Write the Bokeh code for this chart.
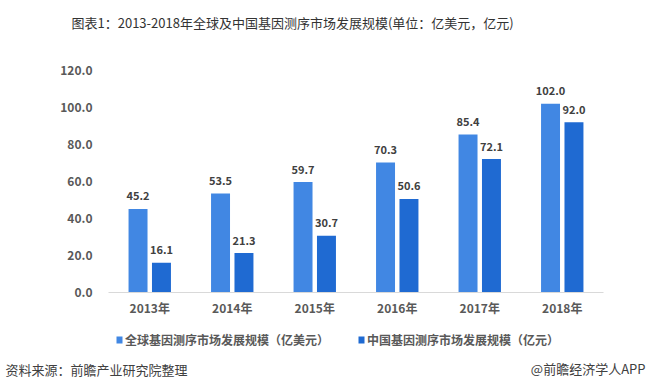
from bokeh.plotting import figure
from bokeh.layouts import column
from bokeh.models import (ColumnDataSource, FactorRange, Label, LabelSet, NumeralTickFormatter,
                          Legend, LegendItem, Range1d, BoxAnnotation)
from bokeh.transform import dodge
from bokeh.core.properties import value
from bokeh.embed import file_html
from bokeh.resources import INLINE

years = ["2013年", "2014年", "2015年", "2016年", "2017年", "2018年"]
global_vals = [45.2, 53.5, 59.7, 70.3, 85.4, 102.0]
china_vals = [16.1, 21.3, 30.7, 50.6, 72.1, 92.0]
y_ticks = [0, 20, 40, 60, 80, 100, 120]
series_names = ["全球基因测序市场发展规模（亿美元）", "中国基因测序市场发展规模（亿元）"]
title_text = "图表1：2013-2018年全球及中国基因测序市场发展规模(单位：亿美元，亿元)"
source_text = "资料来源：前瞻产业研究院整理"
brand_text = "@前瞻经济学人APP"

FONT = "Noto Sans CJK SC"
C1 = "#4187E3"
C2 = "#1F6AD2"
W = 647
H_TOP, H_MAIN, H_BOT = 50, 270, 69


def no_align(f):
    try:
        f.frame_align = False
    except Exception:
        pass


def blank_fig(h):
    f = figure(frame_width=W, frame_height=h, x_range=Range1d(0, W), y_range=Range1d(0, h),
               x_axis_type=None, y_axis_type=None, output_backend="svg",
               toolbar_location=None, min_border=0, title=None)
    f.outline_line_color = None
    f.grid.visible = False
    no_align(f)
    return f


# ---- title strip ----
top = blank_fig(H_TOP)
top.add_layout(Label(x=71, y=H_TOP - 22, text=title_text, text_font=FONT, text_font_size="13px",
                     text_color="#333333", text_baseline="middle", text_align="left"))

# ---- main chart ----
src = ColumnDataSource(dict(
    year=years, g=global_vals, c=china_vals,
    gl=[f"{v:.1f}" for v in global_vals], cl=[f"{v:.1f}" for v in china_vals],
))

p = figure(width=W, height=H_MAIN, x_range=FactorRange(*years), y_range=(0, 120),
           output_backend="svg", toolbar_location=None,
           min_border_left=108, min_border_right=44, min_border_top=20, min_border_bottom=28)
p.outline_line_color = None
p.xgrid.grid_line_color = None
p.ygrid.grid_line_color = None
no_align(p)

OFF = 0.142
BW = 0.23
p.vbar(x=dodge("year", -OFF, range=p.x_range), top="g", width=BW, source=src,
       fill_color=C1, line_color=None)
p.vbar(x=dodge("year", OFF, range=p.x_range), top="c", width=BW, source=src,
       fill_color=C2, line_color=None)

for col, lab, off in (("g", "gl", -OFF), ("c", "cl", OFF)):
    p.add_layout(LabelSet(x=dodge("year", off, range=p.x_range), y=col, text=lab, source=src,
                          y_offset=13, text_align="center", text_baseline="middle",
                          text_font=value(FONT), text_font_size=value("11px"),
                          text_font_style=value("bold"), text_color=value("#404040")))

p.yaxis.ticker = y_ticks
p.yaxis.formatter = NumeralTickFormatter(format="0.0")
p.yaxis.axis_line_color = None
p.yaxis.major_tick_line_color = None
p.yaxis.minor_tick_line_color = None
p.yaxis.major_label_text_font = FONT
p.yaxis.major_label_text_font_size = "12px"
p.yaxis.major_label_text_font_style = "bold"
p.yaxis.major_label_text_color = "#595959"
p.yaxis.major_label_standoff = 10

p.xaxis.axis_line_color = "#D9D9D9"
p.xaxis.axis_line_width = 1
p.xaxis.major_tick_line_color = None
p.xaxis.minor_tick_line_color = None
p.xaxis.major_label_text_font = FONT
p.xaxis.major_label_text_font_size = "12px"
p.xaxis.major_label_text_font_style = "bold"
p.xaxis.major_label_text_color = "#595959"
p.xaxis.major_label_standoff = 0

# ---- legend + footer strip ----
bot = blank_fig(H_BOT)
lsrc = ColumnDataSource(dict(x=[], top=[]))
g1 = bot.vbar(x="x", top="top", width=1, source=lsrc, fill_color=C1, line_color=None)
g2 = bot.vbar(x="x", top="top", width=1, source=lsrc, fill_color=C2, line_color=None)
legend = Legend(items=[LegendItem(label=series_names[0], renderers=[g1]),
                       LegendItem(label=series_names[1], renderers=[g2])],
                orientation="horizontal", location=(115, 41),
                label_text_font=FONT, label_text_font_size="12px", label_text_font_style="bold",
                label_text_color="#595959", label_height=14,
                glyph_width=7, glyph_height=7, spacing=28, padding=0, margin=0,
                label_standoff=3, background_fill_alpha=0, border_line_color=None)
bot.add_layout(legend, "center")
# legend swatches
for (l, r), c in (((116, 122), C1), ((358, 364), C2)):
    bot.add_layout(BoxAnnotation(left=l, right=r, bottom=46, top=53, fill_color=c, fill_alpha=1,
                                 line_color=None, editable=False))
bot.add_layout(Label(x=5, y=H_BOT - 49, text=source_text, text_font=FONT, text_font_size="13px",
                     text_color="#404040", text_baseline="middle", text_align="left"))
bot.add_layout(Label(x=645, y=H_BOT - 48, text=brand_text, text_font=FONT, text_font_size="13px",
                     text_color="#404040", text_baseline="middle", text_align="right"))

layout = column(top, p, bot, spacing=0)
open("out.html", "w").write(file_html(layout, INLINE))
